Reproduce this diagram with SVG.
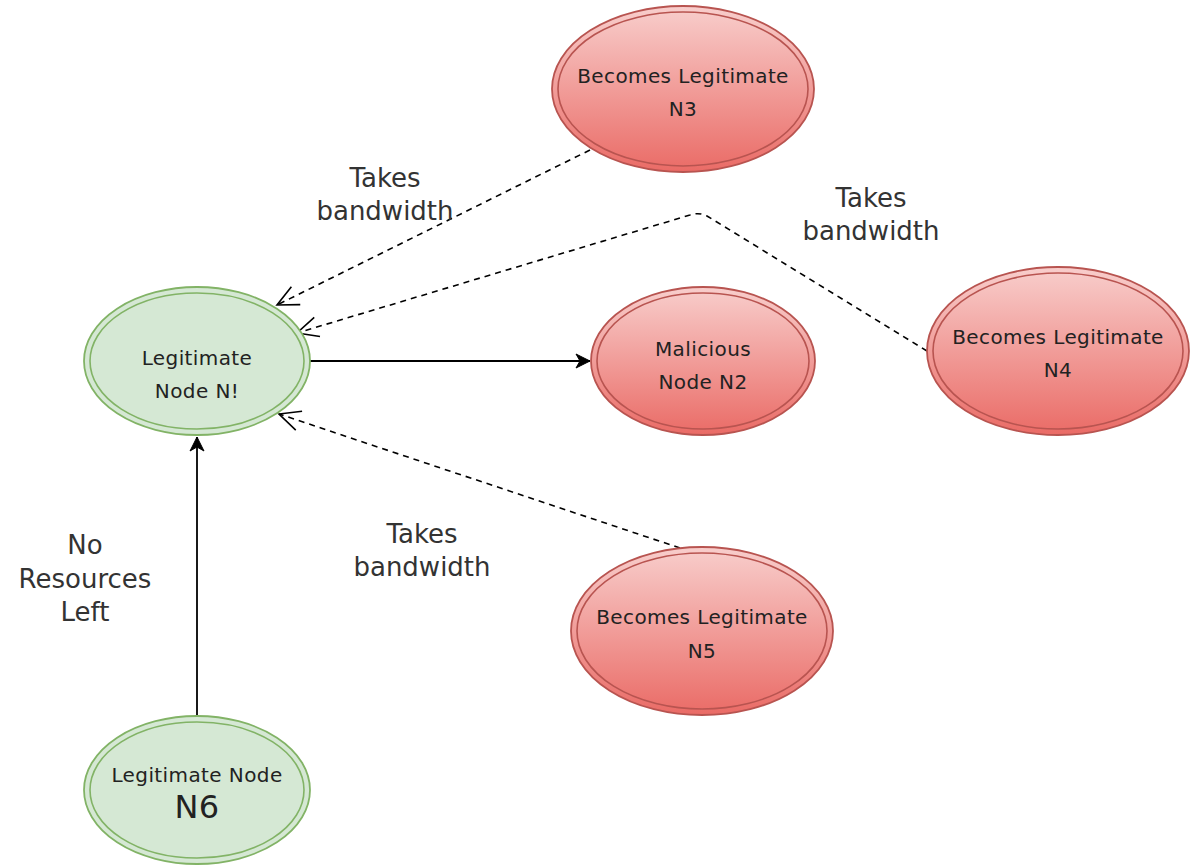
<svg xmlns="http://www.w3.org/2000/svg" width="1198" height="867" viewBox="0 0 1198 867">
<defs>
<linearGradient id="red" x1="0" y1="0" x2="0" y2="1">
<stop offset="0" stop-color="#f8cecc"/>
<stop offset="1" stop-color="#ea6b66"/>
</linearGradient>
<marker id="open" viewBox="-24 -12 26 24" refX="0" refY="0" markerWidth="26" markerHeight="24" markerUnits="userSpaceOnUse" orient="auto">
<path d="M-21,-10 L0,0 L-21,10" fill="none" stroke="#000" stroke-width="1.6"/>
</marker>
<marker id="filled" viewBox="-16 -9 18 18" refX="0" refY="0" markerWidth="18" markerHeight="18" markerUnits="userSpaceOnUse" orient="auto">
<path d="M-14,-7 L0,0 L-14,7 L-10,0 Z" fill="#000" stroke="#000" stroke-width="1"/>
</marker>
</defs>
<style>
.red{fill:url(#red);stroke:#b85450;stroke-width:1.8}
.redin{fill:none;stroke:#b85450;stroke-width:1.6}
.green{fill:#d5e8d4;stroke:#82b366;stroke-width:1.8}
.greenin{fill:none;stroke:#82b366;stroke-width:1.6}
.nt{font-family:"DejaVu Sans",Verdana,sans-serif;font-size:20px;letter-spacing:0.4px;fill:#222;text-anchor:middle}
.lbl{font-family:"DejaVu Sans",Verdana,sans-serif;font-size:26px;fill:#333;text-anchor:middle}
.dash{fill:none;stroke:#000;stroke-width:1.6;stroke-dasharray:6 5;marker-end:url(#open)}
.solid{fill:none;stroke:#000;stroke-width:1.8;marker-end:url(#filled)}
</style>
<rect width="1198" height="867" fill="#fff"/>
<g id="connectors">
<path class="dash" d="M590,150 L277,305"/>
<path class="dash" d="M927,351 L707,216 Q699,212 690,215 L297,333"/>
<path class="dash" d="M680,548 L279,414"/>
<path class="solid" d="M310,361 L590,361"/>
<path class="solid" d="M197,716 L197,437"/>
</g>
<g id="labels">
<text class="lbl" x="385" y="187">Takes</text>
<text class="lbl" x="385" y="220">bandwidth</text>
<text class="lbl" x="871" y="207">Takes</text>
<text class="lbl" x="871" y="240">bandwidth</text>
<text class="lbl" x="422" y="543">Takes</text>
<text class="lbl" x="422" y="576">bandwidth</text>
<text class="lbl" x="85" y="554">No</text>
<text class="lbl" x="85" y="588">Resources</text>
<text class="lbl" x="85" y="621">Left</text>
</g>
<g id="n1">
<ellipse class="green" cx="197" cy="361" rx="113" ry="74"/>
<ellipse class="greenin" cx="197" cy="361" rx="107" ry="68"/>
<text class="nt" x="197" y="365">Legitimate</text>
<text class="nt" x="197" y="398">Node N!</text>
</g>
<g id="n2">
<ellipse class="red" cx="703" cy="361" rx="112" ry="74"/>
<ellipse class="redin" cx="703" cy="361" rx="106" ry="68"/>
<text class="nt" x="703" y="356">Malicious</text>
<text class="nt" x="703" y="389">Node N2</text>
</g>
<g id="n3">
<ellipse class="red" cx="683" cy="89" rx="131" ry="83"/>
<ellipse class="redin" cx="683" cy="89" rx="125" ry="77"/>
<text class="nt" x="683" y="83">Becomes Legitimate</text>
<text class="nt" x="683" y="116">N3</text>
</g>
<g id="n4">
<ellipse class="red" cx="1058" cy="351" rx="131" ry="84"/>
<ellipse class="redin" cx="1058" cy="351" rx="125" ry="78"/>
<text class="nt" x="1058" y="344">Becomes Legitimate</text>
<text class="nt" x="1058" y="377">N4</text>
</g>
<g id="n5">
<ellipse class="red" cx="702" cy="631" rx="131" ry="84"/>
<ellipse class="redin" cx="702" cy="631" rx="125" ry="78"/>
<text class="nt" x="702" y="624">Becomes Legitimate</text>
<text class="nt" x="702" y="658">N5</text>
</g>
<g id="n6">
<ellipse class="green" cx="197" cy="790" rx="113" ry="74"/>
<ellipse class="greenin" cx="197" cy="790" rx="107" ry="68"/>
<text class="nt" x="197" y="782">Legitimate Node</text>
<text class="nt" x="197" y="818" style="font-size:32px">N6</text>
</g>
</svg>
